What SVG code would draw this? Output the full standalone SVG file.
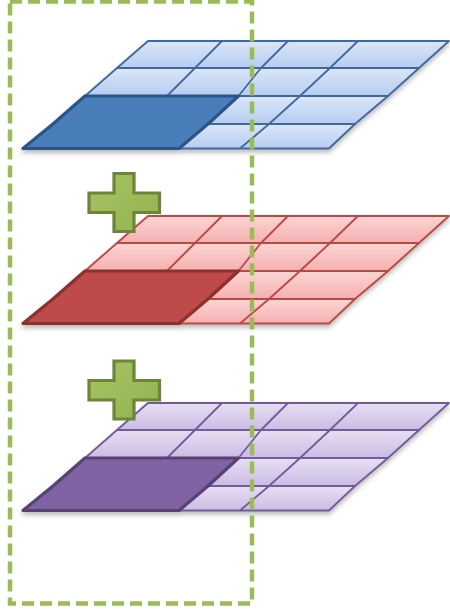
<svg xmlns="http://www.w3.org/2000/svg" xmlns:xlink="http://www.w3.org/1999/xlink" width="450" height="612" viewBox="0 0 450 612">
  <defs>
    <linearGradient id="gBlue" x1="0" y1="0" x2="0" y2="1">
      <stop offset="0" stop-color="#dbe6f8"/>
      <stop offset="1" stop-color="#b6cdf0"/>
    </linearGradient>
    <linearGradient id="gRed" x1="0" y1="0" x2="0" y2="1">
      <stop offset="0" stop-color="#fbd5d4"/>
      <stop offset="1" stop-color="#f4b0af"/>
    </linearGradient>
    <linearGradient id="gPurple" x1="0" y1="0" x2="0" y2="1">
      <stop offset="0" stop-color="#e7dff3"/>
      <stop offset="1" stop-color="#cabce3"/>
    </linearGradient>
    <linearGradient id="gPlus" x1="0" y1="0" x2="1" y2="1">
      <stop offset="0" stop-color="#a5c463"/>
      <stop offset="1" stop-color="#93b350"/>
    </linearGradient>
    <filter id="shadow" x="-10%" y="-10%" width="120%" height="130%">
      <feDropShadow dx="0" dy="3" stdDeviation="2.5" flood-color="#000" flood-opacity="0.28"/>
    </filter>
    <g id="rows">
      <polygon points="148,41 449,41 419,68 117,68"/>
      <polygon points="117,68 419,68 388,96 85,96"/>
      <polygon points="85,96 388,96 355,124 53,124"/>
      <polygon points="53,124 355,124 329,148.5 23,148.5"/>
    </g>
    <g id="cols">
      <polyline points="222,41 195,68 167,96"/>
      <polyline points="288,41 261,68 238.5,96"/>
      <polyline points="358,41 330,68 300,96 269,124 240,148.5"/>
    </g>
    <polygon id="dark" points="85,96 238.5,96 208,124 179,148.5 23,148.5 53,124"/>
    <path id="plus" d="M114,0 H134 V19.5 H159.5 V39 H134 V58 H114 V39 H89 V19.5 H114 Z"/>
  </defs>
  <style>
    .lines { fill: none; stroke-width: 1.8; stroke-linejoin: round; }
    .darkc { stroke-width: 3.2; stroke-linejoin: round; }
    .plus { fill: url(#gPlus); stroke: #6d8439; stroke-width: 3.2; stroke-linejoin: miter; }
    .frame { fill: none; stroke: #9bbb59; stroke-width: 4.5; stroke-dasharray: 12 6; }
  </style>

  <g id="layer-blue" filter="url(#shadow)">
    <use xlink:href="#rows" fill="url(#gBlue)" stroke="#41689d" stroke-width="1.8" stroke-linejoin="round"/>
    <use xlink:href="#cols" class="lines" stroke="#41689d"/>
    <use xlink:href="#dark" class="darkc" fill="#4a7ebb" stroke="#2c5588"/>
  </g>

  <g id="layer-red" transform="translate(0,175)" filter="url(#shadow)">
    <use xlink:href="#rows" fill="url(#gRed)" stroke="#b94845" stroke-width="1.8" stroke-linejoin="round"/>
    <use xlink:href="#cols" class="lines" stroke="#b94845"/>
    <use xlink:href="#dark" class="darkc" fill="#be4b48" stroke="#8a302e"/>
  </g>

  <g id="layer-purple" transform="translate(0,362)" filter="url(#shadow)">
    <use xlink:href="#rows" fill="url(#gPurple)" stroke="#735a9b" stroke-width="1.8" stroke-linejoin="round"/>
    <use xlink:href="#cols" class="lines" stroke="#735a9b"/>
    <use xlink:href="#dark" class="darkc" fill="#8064a2" stroke="#574273"/>
  </g>

  <g id="plus-1" transform="translate(0,173.5)">
    <use xlink:href="#plus" class="plus"/>
  </g>
  <g id="plus-2" transform="translate(0,361)">
    <use xlink:href="#plus" class="plus"/>
  </g>

  <g id="selection-frame">
    <rect class="frame" x="10" y="1.5" width="242" height="602"/>
  </g>
</svg>
